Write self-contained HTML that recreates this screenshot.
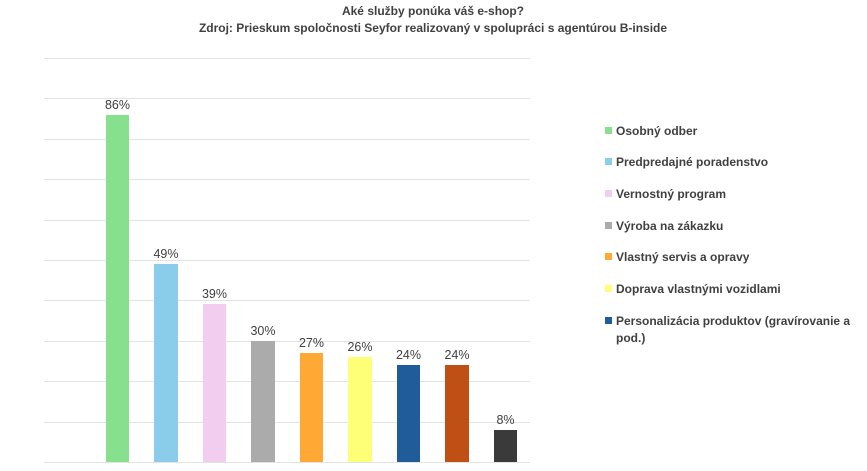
<!DOCTYPE html>
<html><head><meta charset="utf-8"><style>body{margin:0;background:#fff}svg{display:block}</style></head><body>
<svg width="867" height="471" viewBox="0 0 867 471" xmlns="http://www.w3.org/2000/svg" font-family="Liberation Sans, sans-serif">
<text x="433" y="15" text-anchor="middle" font-size="12" font-weight="bold" fill="#404040">Aké služby ponúka váš e-shop?</text>
<text x="433" y="32" text-anchor="middle" font-size="12" font-weight="bold" fill="#404040">Zdroj: Prieskum spoločnosti Seyfor realizovaný v spolupráci s agentúrou B-inside</text>
<g stroke="#e3e3e3" stroke-width="1">
<line x1="44" x2="530" y1="58.5" y2="58.5"/><line x1="44" x2="530" y1="98.5" y2="98.5"/><line x1="44" x2="530" y1="139.5" y2="139.5"/><line x1="44" x2="530" y1="179.5" y2="179.5"/><line x1="44" x2="530" y1="220.5" y2="220.5"/><line x1="44" x2="530" y1="260.5" y2="260.5"/><line x1="44" x2="530" y1="300.5" y2="300.5"/><line x1="44" x2="530" y1="341.5" y2="341.5"/><line x1="44" x2="530" y1="381.5" y2="381.5"/><line x1="44" x2="530" y1="422.5" y2="422.5"/><line x1="44" x2="530" y1="462.5" y2="462.5"/>
</g>
<g font-size="12.5" fill="#404040" text-anchor="middle">
<rect x="106" y="115" width="23" height="347" fill="#86e08e"/><text x="117.5" y="109">86%</text>
<rect x="154" y="264" width="24" height="198" fill="#89cdeb"/><text x="166" y="258">49%</text>
<rect x="203" y="304" width="23" height="158" fill="#f2cdef"/><text x="214.5" y="298">39%</text>
<rect x="251" y="341" width="24" height="121" fill="#ababab"/><text x="263" y="335">30%</text>
<rect x="300" y="353" width="23" height="109" fill="#ffa833"/><text x="311.5" y="347">27%</text>
<rect x="348" y="357" width="24" height="105" fill="#ffff77"/><text x="360" y="351">26%</text>
<rect x="397" y="365" width="23" height="97" fill="#1f5c99"/><text x="408.5" y="359">24%</text>
<rect x="445" y="365" width="24" height="97" fill="#c04f15"/><text x="457" y="359">24%</text>
<rect x="494" y="430" width="23" height="32" fill="#3a3a3a"/><text x="505.5" y="424">8%</text>
</g>
<g font-size="12" font-weight="bold" fill="#404040">
<rect x="605" y="127" width="7" height="7" fill="#86e08e"/><text x="616" y="135">Osobný odber</text>
<rect x="605" y="158" width="7" height="7" fill="#89cdeb"/><text x="616" y="166">Predpredajné poradenstvo</text>
<rect x="605" y="190" width="7" height="7" fill="#f2cdef"/><text x="616" y="198">Vernostný program</text>
<rect x="605" y="222" width="7" height="7" fill="#ababab"/><text x="616" y="230">Výroba na zákazku</text>
<rect x="605" y="253" width="7" height="7" fill="#ffa833"/><text x="616" y="261">Vlastný servis a opravy</text>
<rect x="605" y="285" width="7" height="7" fill="#ffff77"/><text x="616" y="293">Doprava vlastnými vozidlami</text>
<rect x="605" y="317" width="7" height="7" fill="#1f5c99"/><text x="616" y="325">Personalizácia produktov (gravírovanie a</text>
<text x="616" y="342">pod.)</text>
</g>
</svg>
</body></html>
